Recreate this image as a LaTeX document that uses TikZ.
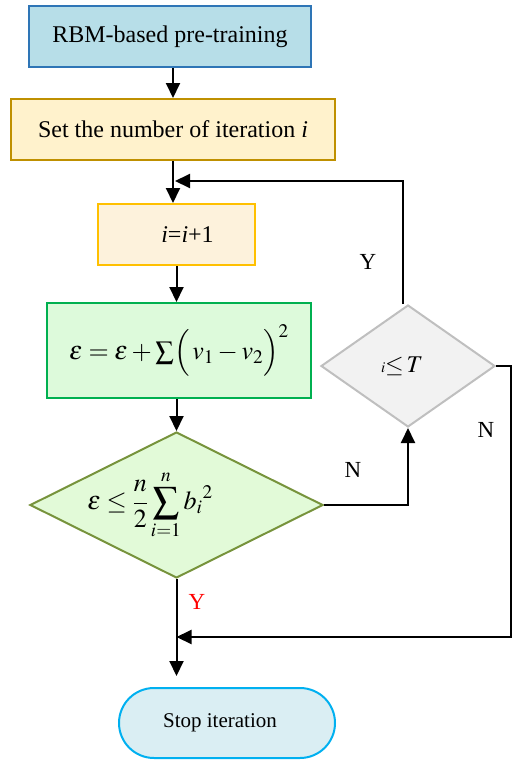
\documentclass[tikz,border=0pt]{standalone}
\usepackage{mathptmx}
\usepackage[no-math]{fontspec}
\setmainfont{Liberation Serif}
\usetikzlibrary{shapes.geometric,arrows.meta}
\definecolor{b1fill}{HTML}{B7DEE8}
\definecolor{b1line}{HTML}{2E75B6}
\definecolor{b2fill}{HTML}{FFF2CC}
\definecolor{b2line}{HTML}{BF9000}
\definecolor{b3fill}{HTML}{FDF2DC}
\definecolor{b3line}{HTML}{FFC000}
\definecolor{b4fill}{HTML}{DDFADB}
\definecolor{b4line}{HTML}{00B050}
\definecolor{d1fill}{HTML}{E2FAD8}
\definecolor{d1line}{HTML}{77933C}
\definecolor{d2fill}{HTML}{F2F2F2}
\definecolor{d2line}{HTML}{BFBFBF}
\definecolor{stfill}{HTML}{DAEEF3}
\definecolor{stline}{HTML}{00B0F0}
\tikzset{
  boxnode/.style={rectangle, line width=2pt, inner sep=0pt, font=\fontsize{24}{28}\selectfont},
  dianode/.style={diamond, line width=2pt, inner sep=0pt, font=\fontsize{24}{28}\selectfont},
  arr/.style={line width=2pt, -{Triangle[length=15pt,width=14pt]}},
  lbl/.style={font=\fontsize{23}{27}\selectfont, inner sep=0pt}
}
\begin{document}
\begin{tikzpicture}[x=1pt,y=-1pt]
\useasboundingbox (0,0) rectangle (513,760);
\node[boxnode, draw=b1line, fill=b1fill, minimum width=282pt, minimum height=61pt] (box1) at (170,36.5) {RBM-based pre-training};
\node[boxnode, draw=b2line, fill=b2fill, minimum width=324pt, minimum height=61pt] (box2) at (173,129.5) {Set the number of iteration \textit{i}};
\node[boxnode, draw=b3line, fill=b3fill, minimum width=157pt, minimum height=61pt] (box3) at (176.5,234.5) {\hspace*{22pt}\textit{i}=\textit{i}+1};
\node[boxnode, draw=b4line, fill=b4fill, minimum width=264pt, minimum height=95pt, font=\fontsize{26}{30}\selectfont] (box4) at (179,350.5) {$\varepsilon=\varepsilon+\sum\Bigl(\,v_1-v_2\Bigr)^2$};
\node[dianode, aspect=2, draw=d1line, fill=d1fill, minimum width=293pt, minimum height=146pt] (d1) at (176.5,505) {};
\node[inner sep=0pt, font=\fontsize{26}{30}\selectfont] (d1text) at (150,505) {$\displaystyle\varepsilon\leq\frac{n}{2}\sum_{i=1}^{n}b_i{}^2$};
\node[dianode, aspect=1.43, draw=d2line, fill=d2fill, minimum width=174pt, minimum height=122pt] (d2) at (408,366) {{\fontsize{15}{15}\selectfont$i$}$\leq\!T$\hspace*{12pt}};
\node[boxnode, draw=stline, fill=stfill, minimum width=216pt, minimum height=70pt, rounded corners=35pt, font=\fontsize{21}{25}\selectfont] (stop) at (227,723) {Stop iteration\hspace*{14pt}};
\coordinate (j1) at (175,181);
\coordinate (j2) at (176.5,637);
\coordinate (stopin) at (176.5,676);
\draw[arr] (box2.north |- box1.south) -- (box2.north);
\draw[arr] (box2.south) -- (box2.south |- box3.north);
\draw[arr] (box3.south) -- (box3.south |- box4.north);
\draw[arr] (d1.north |- box4.south) -- (d1.north);
\draw[arr] (d1.south) -- (stopin);
\draw[arr] (d1.east) -| (d2.south);
\draw[arr] ([xshift=-5pt]d2.north) |- (j1);
\draw[arr] (d2.east) -- ++(15,0) |- (j2);
\node[lbl] (lN1) at (353,470) {N};
\node[lbl] (lY1) at (368,262) {Y};
\node[lbl] (lN2) at (486,430) {N};
\node[lbl, text=red] (lY2) at (197,602) {Y};
\end{tikzpicture}
\end{document}
